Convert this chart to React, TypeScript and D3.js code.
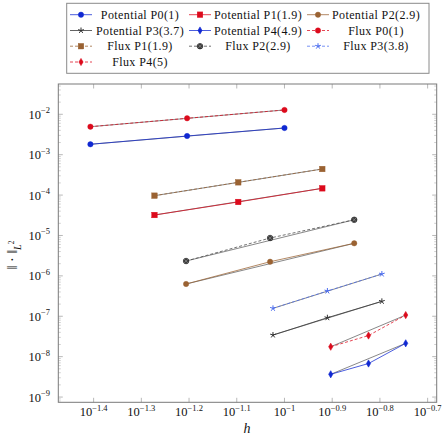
import React from "react";
import * as d3 from "d3";

// mesh sizes h and L2 errors
const hP0 = [0.0392, 0.0625, 0.1];
const potentialP0 = [1.81e-3, 2.9e-3, 4.58e-3];
const fluxP0 = [4.93e-3, 7.96e-3, 1.28e-2];

const hP1 = [0.0534, 0.08, 0.12];
const potentialP1 = [3.21e-5, 6.75e-5, 1.47e-4];
const fluxP1 = [9.66e-5, 2.07e-4, 4.42e-4];

const hP2 = [0.0622, 0.0933, 0.14];
const potentialP2 = [6.29e-7, 2.24e-6, 6.4e-6];
const fluxP2 = [2.33e-6, 8.65e-6, 2.45e-5];

const hP3 = [0.0946, 0.123, 0.16];
const potentialP3 = [3.43e-8, 9.2e-8, 2.34e-7];
const fluxP3 = [1.57e-7, 4.22e-7, 1.11e-6];

const hP4 = [0.125, 0.15, 0.1795];
const potentialP4 = [3.66e-9, 6.76e-9, 2.14e-8];
const fluxP4 = [1.76e-8, 3.33e-8, 1.07e-7];

const xTickExps = [-1.4, -1.3, -1.2, -1.1, -1, -0.9, -0.8, -0.7];
const yTickExps = [-9, -8, -7, -6, -5, -4, -3, -2];

const BLUE = "#1028d2";
const RED = "#dc0a1c";
const BROWN = "#9a6232";
const BLACK = "#303030";
const LIGHTBLUE = "#4a6cf0";

type Marker = "circle" | "square" | "star" | "diamond" | "otimes";

const series: {
  label: string;
  h: number[];
  v: number[];
  color: string;
  marker: Marker;
  dashed: boolean;
}[] = [
  { label: "Potential P0(1)", h: hP0, v: potentialP0, color: BLUE, marker: "circle", dashed: false },
  { label: "Potential P1(1.9)", h: hP1, v: potentialP1, color: RED, marker: "square", dashed: false },
  { label: "Potential P2(2.9)", h: hP2, v: potentialP2, color: BROWN, marker: "circle", dashed: false },
  { label: "Potential P3(3.7)", h: hP3, v: potentialP3, color: BLACK, marker: "star", dashed: false },
  { label: "Potential P4(4.9)", h: hP4, v: potentialP4, color: BLUE, marker: "diamond", dashed: false },
  { label: "Flux P0(1)", h: hP0, v: fluxP0, color: RED, marker: "circle", dashed: true },
  { label: "Flux P1(1.9)", h: hP1, v: fluxP1, color: BROWN, marker: "square", dashed: true },
  { label: "Flux P2(2.9)", h: hP2, v: fluxP2, color: "#444", marker: "otimes", dashed: true },
  { label: "Flux P3(3.8)", h: hP3, v: fluxP3, color: LIGHTBLUE, marker: "star", dashed: true },
  { label: "Flux P4(5)", h: hP4, v: fluxP4, color: RED, marker: "diamond", dashed: true },
];

const W = 442;
const H = 436;
const left = 58.3;
const right = 436.7;
const top = 84;
const bottom = 402.3;

const x = d3.scaleLog().domain([10 ** -1.474, 10 ** -0.681]).range([left, right]);
const y = d3.scaleLog().domain([10 ** -9.13, 10 ** -1.25]).range([bottom, top]);

const starPath = (r: number) =>
  d3.range(5)
    .map((i) => {
      const a = -Math.PI / 2 + (i * 2 * Math.PI) / 5;
      return `M0,0L${(r * Math.cos(a)).toFixed(2)},${(r * Math.sin(a)).toFixed(2)}`;
    })
    .join("");

function MarkerGlyph({ kind, color, cx, cy }: { kind: Marker; color: string; cx: number; cy: number }) {
  const t = `translate(${cx},${cy})`;
  if (kind === "circle")
    return <circle cx={cx} cy={cy} r={2.7} fill={color} stroke={color} strokeWidth={0.4} />;
  if (kind === "otimes")
    return (
      <g transform={t}>
        <circle r={2.8} fill="#3c3c3c" stroke="#222" strokeWidth={0.6} />
        <path d="M-1.9,-1.9L1.9,1.9M-1.9,1.9L1.9,-1.9" stroke="#999" strokeWidth={0.6} />
      </g>
    );
  if (kind === "square")
    return <rect x={cx - 2.8} y={cy - 2.8} width={5.6} height={5.6} fill={color} stroke={color} strokeWidth={0.4} />;
  if (kind === "diamond")
    return <path transform={t} d={d3.symbol(d3.symbolDiamond, 15)()!} fill={color} stroke={color} strokeWidth={0.6} />;
  return <path transform={t} d={starPath(3)} stroke={color} strokeWidth={1} fill="none" />;
}

const App = () => {
  const line = d3
    .line<[number, number]>()
    .x((d) => x(d[0]))
    .y((d) => y(d[1]));

  const yMinor: number[] = [];
  for (let e = -10; e <= -1; e++) {
    for (let m = 2; m <= 9; m++) {
      const v = m * 10 ** e;
      if (v >= y.domain()[0] && v <= y.domain()[1]) yMinor.push(v);
    }
  }

  const font = "'Liberation Serif', 'Times New Roman', serif";
  const legendCols = [
    { lx: 70, tx: 140 },
    { lx: 189, tx: 258 },
    { lx: 307, tx: 376 },
  ];
  const legendRows = [14.7, 30.5, 46.2, 62];

  return (
    <svg width={W} height={H} style={{ position: "absolute", left: 0, top: 0 }} fontFamily={font}>
      <rect width={W} height={H} fill="#fff" />

      {/* minor y ticks, both sides */}
      {yMinor.map((v, i) => (
        <g key={"ym" + i} stroke="#b0b0b0" strokeWidth={0.6}>
          <line x1={left} x2={left + 2.5} y1={y(v)} y2={y(v)} />
          <line x1={right} x2={right - 2.5} y1={y(v)} y2={y(v)} />
        </g>
      ))}
      {yTickExps.map((e) => (
        <g key={"yt" + e} stroke="#999" strokeWidth={0.7}>
          <line x1={left} x2={left + 4.5} y1={y(10 ** e)} y2={y(10 ** e)} />
          <line x1={right} x2={right - 4.5} y1={y(10 ** e)} y2={y(10 ** e)} />
        </g>
      ))}
      {xTickExps.map((e) => (
        <g key={"xt" + e} stroke="#999" strokeWidth={0.7}>
          <line x1={x(10 ** e)} x2={x(10 ** e)} y1={bottom} y2={bottom - 4.5} />
          <line x1={x(10 ** e)} x2={x(10 ** e)} y1={top} y2={top + 4.5} />
        </g>
      ))}

      <rect x={left} y={top} width={right - left} height={bottom - top} fill="none" stroke="#7a7a7a" strokeWidth={1} />

      {/* tick labels */}
      {yTickExps.map((e) => (
        <text key={"yl" + e} x={50} y={y(10 ** e) + 4.5} textAnchor="end" fontSize={12.5} fill="#111">
          10
          <tspan dy={-5.5} fontSize={8.5}>
            {"\u2212" + Math.abs(e)}
          </tspan>
        </text>
      ))}
      {xTickExps.map((e) => (
        <text key={"xl" + e} x={x(10 ** e)} y={416} textAnchor="middle" fontSize={12.5} fill="#111">
          10
          <tspan dy={-5} fontSize={8.5}>
            {"\u2212" + Math.abs(e)}
          </tspan>
        </text>
      ))}

      {/* axis labels */}
      <text x={247} y={433} textAnchor="middle" fontSize={14} fontStyle="italic" fill="#111">
        h
      </text>
      <text transform={`translate(17,255) rotate(-90)`} textAnchor="middle" fontSize={14} fill="#111">
        {"\u2016 \u00b7 \u2016"}
        <tspan dy={3.5} fontSize={10} fontStyle="italic">
          L
        </tspan>
        <tspan dy={-7} fontSize={7.5}>
          2
        </tspan>
      </text>

      {/* grey chords first to last point */}
      {series.map((s, i) => {
        const n = s.h.length - 1;
        return (
          <line
            key={"c" + i}
            x1={x(s.h[0])}
            y1={y(s.v[0])}
            x2={x(s.h[n])}
            y2={y(s.v[n])}
            stroke="#6a6a6a"
            strokeWidth={0.8}
          />
        );
      })}

      {/* series */}
      {series.map((s, i) => {
        const pts = s.h.map((h, j) => [h, s.v[j]] as [number, number]);
        return (
          <g key={"s" + i}>
            <path
              d={line(pts)!}
              fill="none"
              stroke={s.color}
              strokeWidth={1}
              strokeOpacity={0.75}
              strokeDasharray={s.dashed ? "3,2" : undefined}
            />
            {pts.map((p, j) => (
              <MarkerGlyph key={j} kind={s.marker} color={s.color} cx={x(p[0])} cy={y(p[1])} />
            ))}
          </g>
        );
      })}

      {/* legend */}
      <rect x={66.7} y={3.3} width={362.3} height={70} fill="#fff" stroke="#8a8a8a" strokeWidth={1} />
      {series.map((s, i) => {
        const col = legendCols[i % 3];
        const ry = legendRows[Math.floor(i / 3)];
        return (
          <g key={"lg" + i}>
            <line
              x1={col.lx}
              x2={col.lx + 22}
              y1={ry}
              y2={ry}
              stroke={s.color}
              strokeWidth={1}
              strokeOpacity={0.75}
              strokeDasharray={s.dashed ? "3,2" : undefined}
            />
            <MarkerGlyph kind={s.marker} color={s.color} cx={col.lx + 11} cy={ry} />
            <text x={col.tx} y={ry + 4} textAnchor="middle" fontSize={12} letterSpacing={0.4} fill="#111">
              {s.label}
            </text>
          </g>
        );
      })}
    </svg>
  );
};

export default App;
